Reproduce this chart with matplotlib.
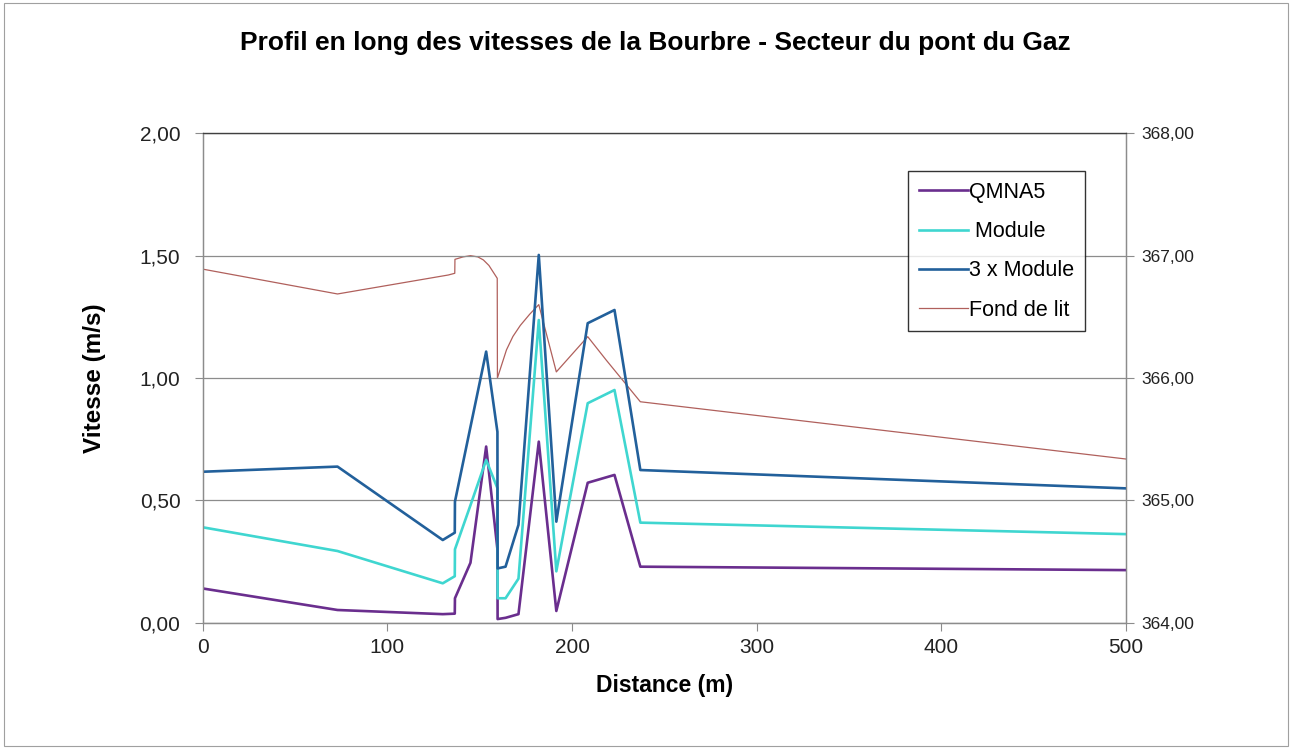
import matplotlib.pyplot as plt
from matplotlib.ticker import FuncFormatter, MultipleLocator
from matplotlib.patches import Rectangle

plt.rcParams['font.family'] = ['Liberation Sans', 'DejaVu Sans']

# distances (m) and velocities (m/s)
dist_v = [0, 73, 130, 136.5, 136.6, 145, 153.5, 159.6, 159.7, 164, 171, 182, 191.5, 208.5, 223, 237, 500]
qmna5 = [0.14, 0.052, 0.035, 0.037, 0.10, 0.245, 0.72, 0.30, 0.015, 0.02, 0.035, 0.74, 0.048, 0.572, 0.604, 0.229, 0.215]
module = [0.39, 0.293, 0.161, 0.19, 0.30, 0.48, 0.665, 0.55, 0.10, 0.10, 0.18, 1.237, 0.21, 0.897, 0.951, 0.409, 0.362]
module3 = [0.617, 0.638, 0.338, 0.368, 0.495, 0.80, 1.108, 0.78, 0.222, 0.229, 0.40, 1.503, 0.413, 1.224, 1.278, 0.624, 0.549]

# bed level (m) on the secondary axis
dist_f = [0, 73, 133, 136.5, 136.6, 141, 145, 149, 152, 155, 159.5, 159.6, 164.5, 168, 172, 177, 182, 191.5, 208.5, 218.5, 237, 500]
fond = [366.89, 366.687, 366.842, 366.856, 366.97, 366.99, 367.0, 366.99, 366.965, 366.92, 366.815, 366.0, 366.23, 366.34, 366.43, 366.52, 366.60, 366.05, 366.338, 366.147, 365.806, 365.338]

fig = plt.figure(figsize=(12.92, 7.49), dpi=100)
fig.patches.append(Rectangle((0.003, 0.004), 0.994, 0.992, transform=fig.transFigure,
                             fill=False, edgecolor='#a0a0a0', linewidth=0.8))
ax = fig.add_axes([0.1569, 0.1686, 0.7146, 0.6534])
ax2 = ax.twinx()

l1, = ax.plot(dist_v, qmna5, color='#6a2e8e', lw=1.9, label='QMNA5')
l2, = ax.plot(dist_v, module, color='#3fd6d0', lw=1.9, label=' Module')
l3, = ax.plot(dist_v, module3, color='#22609b', lw=1.9, label='3 x Module')
l4, = ax2.plot(dist_f, fond, color='#b0605c', lw=0.9, label='Fond de lit')
ax.set_zorder(ax2.get_zorder() + 1)
ax.patch.set_visible(False)

comma = FuncFormatter(lambda v, p: f'{v:.2f}'.replace('.', ','))
ax.set_xlim(0, 500)
ax.set_ylim(0, 2)
ax.yaxis.set_major_locator(MultipleLocator(0.5))
ax.xaxis.set_major_locator(MultipleLocator(100))
ax.yaxis.set_major_formatter(comma)
ax2.set_ylim(364, 368)
ax2.yaxis.set_major_locator(MultipleLocator(1))
ax2.yaxis.set_major_formatter(comma)

ax.grid(axis='y', color='#8c8c8c', lw=0.9)
ax.set_axisbelow(True)
for a in (ax, ax2):
    for s in a.spines.values():
        s.set_color('#8c8c8c')
        s.set_linewidth(0.9)
    a.tick_params(direction='out', length=6, color='#8c8c8c')
ax.spines['top'].set_color('#404040')
ax.tick_params(axis='y', labelsize=15, pad=10, labelcolor='#222222')
ax.tick_params(axis='x', labelsize=15, pad=5, labelcolor='#222222')
ax2.tick_params(labelsize=12.5, pad=5, labelcolor='#222222')

ax.set_xlabel('Distance (m)', fontsize=16.5, fontweight='bold', labelpad=12)
ax.set_ylabel('Vitesse (m/s)', fontsize=17.5, fontweight='bold', labelpad=24)
fig.suptitle('Profil en long des vitesses de la Bourbre - Secteur du pont du Gaz',
             fontsize=19, fontweight='bold', x=0.507, y=0.942, va='center')

leg = ax.legend(handles=[l1, l2, l3, l4], loc='upper left', bbox_to_anchor=(0.764, 0.923),
                borderaxespad=0, fontsize=15.5, frameon=True, fancybox=False, edgecolor='black',
                handlelength=2.3, handletextpad=0.05, labelspacing=0.85, borderpad=0.5)
leg.get_frame().set_linewidth(1.0)

fig.savefig('out.png', dpi=100, facecolor='white')
